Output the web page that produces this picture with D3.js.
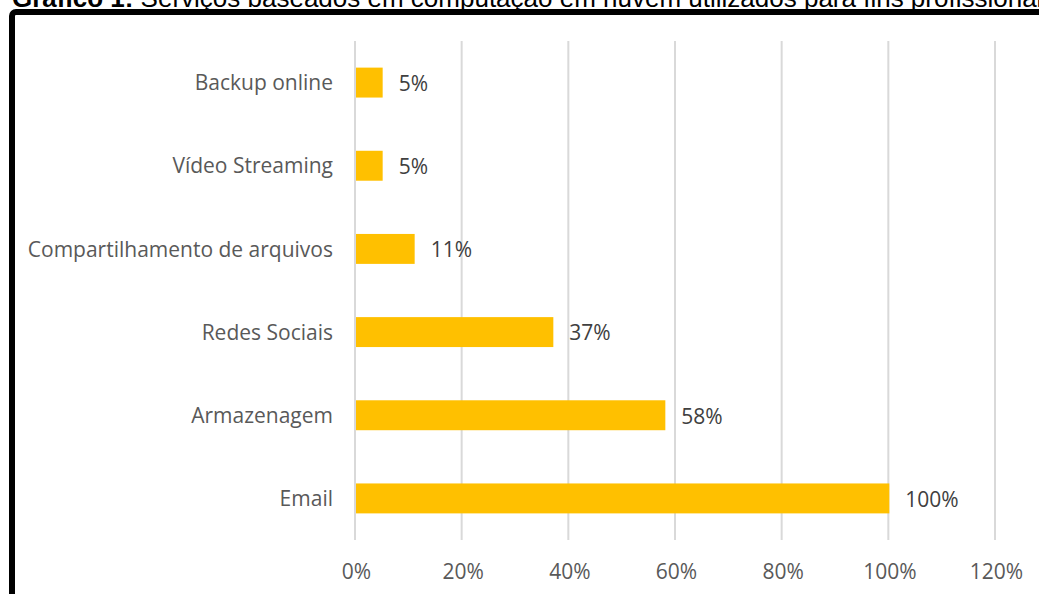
<!DOCTYPE html>
<html>
<head>
<meta charset="utf-8">
<script src="https://cdn.jsdelivr.net/npm/d3@7"></script>
<style>
    body { margin: 0; background: #fff; }
    svg { display: block; }
</style>
</head>
<body>
<div id="chart"></div>
<script>
"use strict";

// Data
const categories = ["Backup online", "Vídeo Streaming", "Compartilhamento de arquivos", "Redes Sociais", "Armazenagem", "Email"];
const values = [0.05, 0.05, 0.11, 0.37, 0.58, 1.00];
const x_ticks = [0, 0.2, 0.4, 0.6, 0.8, 1.0, 1.2];
const title_bold = "Gráfico 1:";
const title_rest = " Serviços baseados em computação em nuvem utilizados para fins profissionais";

const width = 1039;
const height = 594;

const LABEL_FONT = "Open Sans, sans-serif";
const LABEL_SIZE = 21;

const plot = {left: 356, right: 996, top: 41, bottom: 540};

const svg = d3.select("#chart").append("svg")
    .attr("width", width)
    .attr("height", height);

// Title, cut at the top of the page like in the original
svg.append("text")
    .attr("x", 12)
    .attr("y", 7)
    .attr("font-family", "Liberation Sans, Arial, sans-serif")
    .attr("font-size", 26)
    .attr("fill", "#000")
    .call(function (t) {
        t.append("tspan").attr("font-weight", "bold").text(title_bold);
        t.append("tspan").text(title_rest);
    });

// Black frame round the chart
svg.append("rect")
    .attr("x", 12)
    .attr("y", 12)
    .attr("width", width + 40)
    .attr("height", height + 40)
    .attr("rx", 4)
    .attr("fill", "#fff")
    .attr("stroke", "#000")
    .attr("stroke-width", 6);

const x_scale = d3.scaleLinear()
    .domain([0, 1.2])
    .range([plot.left, plot.right]);

const y_scale = d3.scaleBand()
    .domain(categories)
    .range([plot.top, plot.bottom])
    .paddingInner(0.64)
    .paddingOuter(0.32);

// Vertical gridlines
svg.append("g")
    .selectAll("line")
    .data(x_ticks)
    .join("line")
    .attr("x1", d => x_scale(d) - 1)
    .attr("x2", d => x_scale(d) - 1)
    .attr("y1", plot.top)
    .attr("y2", plot.bottom)
    .attr("stroke", "#d9d9d9")
    .attr("stroke-width", 2);

// X axis labels
const x_axis = d3.axisBottom(x_scale)
    .tickValues(x_ticks)
    .tickFormat(d3.format(".0%"))
    .tickSize(0)
    .tickPadding(0);

svg.append("g")
    .attr("transform", "translate(0," + (plot.bottom + 24) + ")")
    .call(x_axis)
    .call(g => g.select(".domain").remove())
    .call(g => g.selectAll("text")
        .attr("font-family", LABEL_FONT)
        .attr("font-size", LABEL_SIZE)
        .attr("fill", "#595959"));

// Category labels
const y_axis = d3.axisLeft(y_scale)
    .tickSize(0)
    .tickPadding(0);

svg.append("g")
    .attr("transform", "translate(" + (plot.left - 23) + ",1)")
    .call(y_axis)
    .call(g => g.select(".domain").remove())
    .call(g => g.selectAll("text")
        .attr("font-family", LABEL_FONT)
        .attr("font-size", LABEL_SIZE)
        .attr("fill", "#595959"));

// Bars
svg.append("g")
    .selectAll("rect")
    .data(values)
    .join("rect")
    .attr("x", x_scale(0))
    .attr("y", (d, i) => y_scale(categories[i]))
    .attr("width", d => x_scale(d) - x_scale(0))
    .attr("height", y_scale.bandwidth())
    .attr("fill", "#ffc000");

// Value labels
svg.append("g")
    .selectAll("text")
    .data(values)
    .join("text")
    .attr("x", d => x_scale(d) + 16)
    .attr("y", (d, i) => y_scale(categories[i]) + y_scale.bandwidth() / 2 + 1)
    .attr("dy", "0.35em")
    .attr("font-family", LABEL_FONT)
    .attr("font-size", LABEL_SIZE)
    .attr("fill", "#404040")
    .text(d => d3.format(".0%")(d));
</script>
</body>
</html>
